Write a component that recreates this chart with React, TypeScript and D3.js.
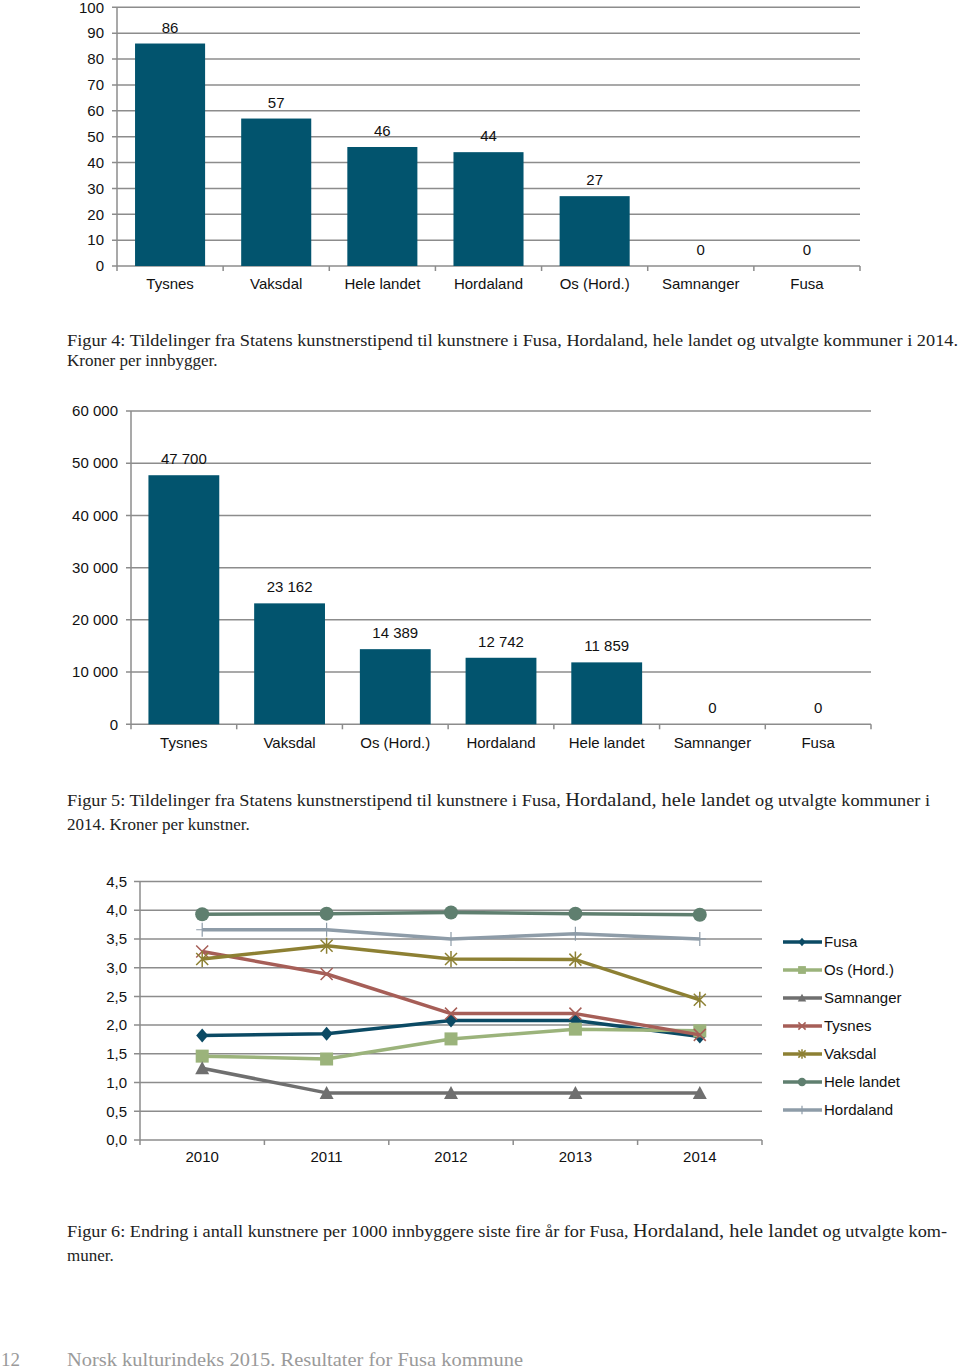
import React from "react";
import * as d3 from "d3";

// ---------- Data ----------
const fig4Categories = ["Tysnes", "Vaksdal", "Hele landet", "Hordaland", "Os (Hord.)", "Samnanger", "Fusa"];
const fig4Values = [86, 57, 46, 44, 27, 0, 0];
const fig4Ticks = [0, 10, 20, 30, 40, 50, 60, 70, 80, 90, 100];

const fig5Categories = ["Tysnes", "Vaksdal", "Os (Hord.)", "Hordaland", "Hele landet", "Samnanger", "Fusa"];
const fig5Values = [47700, 23162, 14389, 12742, 11859, 0, 0];
const fig5Ticks = [0, 10000, 20000, 30000, 40000, 50000, 60000];

const years = ["2010", "2011", "2012", "2013", "2014"];
const fig6Ticks = [0, 0.5, 1, 1.5, 2, 2.5, 3, 3.5, 4, 4.5];
const seriesNames = ["Fusa", "Os (Hord.)", "Samnanger", "Tysnes", "Vaksdal", "Hele landet", "Hordaland"];
const fusa = [1.82, 1.85, 2.08, 2.08, 1.8];
const osHord = [1.46, 1.41, 1.76, 1.93, 1.9];
const samnanger = [1.25, 0.82, 0.82, 0.82, 0.82];
const tysnes = [3.28, 2.89, 2.2, 2.2, 1.83];
const vaksdal = [3.15, 3.38, 3.15, 3.14, 2.44];
const heleLandet = [3.93, 3.94, 3.96, 3.94, 3.92];
const hordaland = [3.66, 3.66, 3.5, 3.59, 3.5];
const seriesValues = [fusa, osHord, samnanger, tysnes, vaksdal, heleLandet, hordaland];
const seriesColors = ["#0B4A64", "#9BB37B", "#6F6F6F", "#A65E57", "#8D8033", "#5F7F6F", "#8E9CA8"];
const seriesMarkers = ["diamond", "square", "triangle", "x", "asterisk", "circle", "plus"];

// ---------- Styles ----------
const SANS = "'Liberation Sans', Arial, Helvetica, sans-serif";
const SERIF = "'Liberation Serif', 'Times New Roman', serif";
const GRID = "#8c8c8c";
const BAR = "#02546E";
const TXT = "#111";
const FS = 15;

const nbLocale = d3.formatLocale({ decimal: ",", thousands: " ", grouping: [3], currency: ["", ""] });
const fmtInt = nbLocale.format(",d");
const fmtDec = nbLocale.format(".1f");

type BarProps = {
  cats: string[];
  vals: number[];
  ticks: number[];
  x0: number;
  x1: number;
  yTop: number;
  yBot: number;
  max: number;
  padInner: number;
  labelRight: number;
  catY: number;
};

function BarChart(p: BarProps) {
  const x = d3.scaleBand<string>().domain(p.cats).range([p.x0, p.x1]).paddingInner(p.padInner).paddingOuter(p.padInner / 2);
  const y = d3.scaleLinear().domain([0, p.max]).range([p.yBot, p.yTop]);
  const step = x.step();
  const boundaries = d3.range(p.cats.length + 1).map((i) => p.x0 + i * step);
  return (
    <g>
      {p.ticks.map((t) => (
        <g key={t}>
          <line x1={p.x0 - 5} x2={p.x1} y1={y(t)} y2={y(t)} stroke={GRID} strokeWidth={1.5} />
          <text x={p.labelRight} y={y(t)} dy="0.35em" textAnchor="end" fontFamily={SANS} fontSize={FS} fill={TXT}>
            {fmtInt(t)}
          </text>
        </g>
      ))}
      <line x1={p.x0} x2={p.x0} y1={p.yTop} y2={p.yBot} stroke={GRID} strokeWidth={1.5} />
      {boundaries.map((b, i) => (
        <line key={i} x1={b} x2={b} y1={p.yBot} y2={p.yBot + 5} stroke={GRID} strokeWidth={1.5} />
      ))}
      {p.cats.map((c, i) => (
        <g key={c}>
          <rect x={x(c)} y={y(p.vals[i])} width={x.bandwidth()} height={p.yBot - y(p.vals[i])} fill={BAR} />
          <text x={(x(c) as number) + x.bandwidth() / 2} y={y(p.vals[i]) - 11} textAnchor="middle" fontFamily={SANS} fontSize={FS} fill={TXT}>
            {fmtInt(p.vals[i])}
          </text>
          <text x={(x(c) as number) + x.bandwidth() / 2} y={p.catY} textAnchor="middle" fontFamily={SANS} fontSize={FS} fill={TXT}>
            {c}
          </text>
        </g>
      ))}
    </g>
  );
}

function Marker({ type, cx, cy, color, s = 1 }: { type: string; cx: number; cy: number; color: string; s?: number }) {
  switch (type) {
    case "diamond":
      return <path d={`M${cx},${cy - 7 * s}L${cx + 6 * s},${cy}L${cx},${cy + 7 * s}L${cx - 6 * s},${cy}Z`} fill={color} />;
    case "square":
      return <rect x={cx - 6.5 * s} y={cy - 6.5 * s} width={13 * s} height={13 * s} fill={color} />;
    case "triangle":
      return <path d={`M${cx},${cy - 7 * s}L${cx + 7 * s},${cy + 6 * s}L${cx - 7 * s},${cy + 6 * s}Z`} fill={color} />;
    case "circle":
      return <circle cx={cx} cy={cy} r={7 * s} fill={color} />;
    case "x":
      return (
        <path d={`M${cx - 6 * s},${cy - 6 * s}L${cx + 6 * s},${cy + 6 * s}M${cx - 6 * s},${cy + 6 * s}L${cx + 6 * s},${cy - 6 * s}`} stroke={color} strokeWidth={1.5} />
      );
    case "asterisk":
      return (
        <path
          d={`M${cx - 6 * s},${cy - 6 * s}L${cx + 6 * s},${cy + 6 * s}M${cx - 6 * s},${cy + 6 * s}L${cx + 6 * s},${cy - 6 * s}M${cx},${cy - 8 * s}L${cx},${cy + 8 * s}`}
          stroke={color}
          strokeWidth={1.5}
        />
      );
    case "plus":
      return <path d={`M${cx},${cy - 7 * s}L${cx},${cy + 7 * s}M${cx - 6 * s},${cy}L${cx + 6 * s},${cy}`} stroke={color} strokeWidth={1.2} />;
    default:
      return null;
  }
}

function LineChart() {
  const x0 = 140, x1 = 762, yTop = 881.5, yBot = 1140;
  const x = d3.scalePoint<string>().domain(years).range([x0, x1]).padding(0.5);
  const y = d3.scaleLinear().domain([0, 4.5]).range([yBot, yTop]);
  const step = x.step();
  const boundaries = d3.range(years.length + 1).map((i) => x0 + i * step);
  const line = d3
    .line<number>()
    .x((_, i) => x(years[i]) as number)
    .y((d) => y(d));
  return (
    <g>
      {fig6Ticks.map((t) => (
        <g key={t}>
          <line x1={x0 - 6} x2={x1} y1={y(t)} y2={y(t)} stroke={GRID} strokeWidth={1.5} />
          <text x={127} y={y(t)} dy="0.35em" textAnchor="end" fontFamily={SANS} fontSize={FS} fill={TXT}>
            {fmtDec(t)}
          </text>
        </g>
      ))}
      <line x1={x0} x2={x0} y1={yTop} y2={yBot} stroke={GRID} strokeWidth={1.5} />
      {boundaries.map((b, i) => (
        <line key={i} x1={b} x2={b} y1={yBot} y2={yBot + 5} stroke={GRID} strokeWidth={1.5} />
      ))}
      {years.map((yr) => (
        <text key={yr} x={x(yr)} y={1162} textAnchor="middle" fontFamily={SANS} fontSize={FS} fill={TXT}>
          {yr}
        </text>
      ))}
      {seriesValues.map((vals, si) => (
        <g key={seriesNames[si]}>
          <path d={line(vals) as string} fill="none" stroke={seriesColors[si]} strokeWidth={3.5} strokeLinejoin="round" />
          {vals.map((v, i) => (
            <Marker key={i} type={seriesMarkers[si]} cx={x(years[i]) as number} cy={y(v)} color={seriesColors[si]} />
          ))}
        </g>
      ))}
      {seriesNames.map((n, si) => {
        const ly = 942 + si * 28;
        return (
          <g key={n}>
            <line x1={783} x2={822} y1={ly} y2={ly} stroke={seriesColors[si]} strokeWidth={3.5} />
            <Marker type={seriesMarkers[si]} cx={802} cy={ly} color={seriesColors[si]} s={0.6} />
            <text x={824} y={ly} dy="0.35em" fontFamily={SANS} fontSize={FS} fill={TXT}>
              {n}
            </text>
          </g>
        );
      })}
    </g>
  );
}

export default function App() {
  const cap = { fontFamily: SERIF, fontSize: 17, fill: "#222" };
  return (
    <svg width={960} height={1371} style={{ position: "absolute", left: 0, top: 0, background: "#fff" }}>
      <rect width={960} height={1371} fill="#fff" />
      <BarChart cats={fig4Categories} vals={fig4Values} ticks={fig4Ticks} x0={117} x1={860} yTop={7.3} yBot={266} max={100} padInner={0.34} labelRight={104} catY={289} />
      <text x={67} y={346} {...cap} textLength={891} lengthAdjust="spacingAndGlyphs">
        Figur 4: Tildelinger fra Statens kunstnerstipend til kunstnere i Fusa, Hordaland, hele landet og utvalgte kommuner i 2014.
      </text>
      <text x={67} y={366} {...cap}>
        Kroner per innbygger.
      </text>

      <BarChart cats={fig5Categories} vals={fig5Values} ticks={fig5Ticks} x0={131} x1={871} yTop={411} yBot={724.3} max={60000} padInner={0.33} labelRight={118} catY={748} />
      <text x={67} y={806} {...cap} textLength={863} lengthAdjust="spacingAndGlyphs">
        Figur 5: Tildelinger fra Statens kunstnerstipend til kunstnere i Fusa, <tspan fontSize={19}>Hordaland, hele landet</tspan> og utvalgte kommuner i
      </text>
      <text x={67} y={830} {...cap}>
        2014. Kroner per kunstner.
      </text>

      <LineChart />
      <text x={67} y={1237} {...cap} textLength={880} lengthAdjust="spacingAndGlyphs">
        Figur 6: Endring i antall kunstnere per 1000 innbyggere siste fire år for Fusa, <tspan fontSize={19}>Hordaland, hele landet</tspan> og utvalgte kom-
      </text>
      <text x={67} y={1261} {...cap}>
        muner.
      </text>

      <text x={1} y={1366} fontFamily={SERIF} fontSize={19} fill="#9a9a9a">
        12
      </text>
      <text x={67} y={1366} fontFamily={SERIF} fontSize={19} fill="#9a9a9a" textLength={456} lengthAdjust="spacingAndGlyphs">
        Norsk kulturindeks 2015. Resultater for Fusa kommune
      </text>
    </svg>
  );
}
